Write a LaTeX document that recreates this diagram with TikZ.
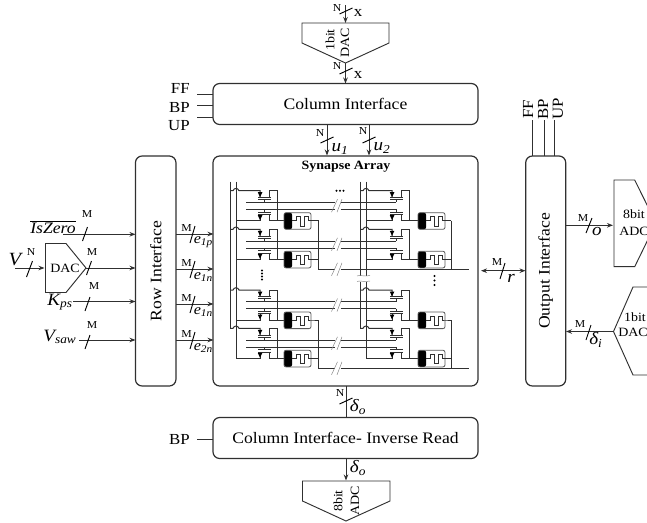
\documentclass[tikz,border=0pt]{standalone}
\usepackage{fontspec}
\setmainfont[FakeStretch=1.1]{Liberation Serif}
\usetikzlibrary{arrows.meta,calc}
\definecolor{ln}{HTML}{303030}
\tikzset{
 box/.style={draw=ln,line width=0.9pt,rounded corners=5pt,inner sep=0pt,font=\fontsize{12}{14}\selectfont},
 conn/.style={line width=0.75pt,draw=ln},
 arr/.style={conn,-{Stealth[length=4.5pt,width=3.4pt]}},
 darr/.style={conn,{Stealth[length=4.5pt,width=3.4pt]}-{Stealth[length=4.5pt,width=3.4pt]}},
 slsh/.style={line width=0.7pt,draw=black},
 wire/.style={line width=0.75pt,draw=ln},
 tick/.style={line width=0.35pt,draw=gray},
 conv/.style={draw=ln,line width=0.7pt},
 sm/.style={inner sep=0pt,font=\fontsize{8}{9}\selectfont},
 lb/.style={inner sep=0pt,font=\fontsize{11.5}{13}\selectfont},
 cv/.style={inner sep=0pt,font=\fontsize{9.5}{11}\selectfont},
 mth/.style={inner sep=0pt,font=\fontsize{13}{15}\selectfont\itshape},
}
\newcommand{\sbs}[1]{\textsubscript{#1}}
\newcommand{\slh}[2]{\draw[slsh] (#1-2.5,#2+7) -- (#1+2.5,#2-7);}
\newcommand{\slv}[2]{\draw[slsh] (#1-6.5,#2+3) -- (#1+6.5,#2-3);}
\newcommand{\cellA}[4]{%
 % #1 transistor shift, #2 vertical-line shift, #3 memristor shift, #4 y
 \begin{scope}[shift={(#1,#4)}]
 \draw[wire] ({230.7+#2-#1},0) -- ({233+#2-#1},0) .. controls ({234+#2-#1},-3) and ({238+#2-#1},-3) .. ({239+#2-#1},0) -- (260,0) -- (260,6.7);
 \fill[black] (257.8,1.5) -- (262.4,1.5) -- (260,6.5) -- cycle;
 \draw[wire] (258.3,6.7) -- (270.7,6.7) (258.3,8.9) -- (270.7,8.9) (264.3,8.9) -- (264.3,11.7);
 \draw[wire] (269.3,6.7) -- (269.3,0) -- (277.7,0) -- (277.7,30);
 \draw[wire] (264.3,18.7) -- (264.3,21.5) (258.3,21.5) -- (270.7,21.5) (258.3,23.7) -- (270.7,23.7);
 \draw[wire] (260,23.7) -- (260,30) -- ({236+#2-#1},30);
 \fill[black] (257.8,24.5) -- (262.4,24.5) -- (260,29.5) -- cycle;
 \draw[wire] (269.3,23.7) -- (269.3,30) -- ({284+#3},30);
 \begin{scope}[shift={(#3,0)}]
 \fill[black,rounded corners=1.5pt] (284,22) rectangle (292,38.6);
 \draw[line width=0.6pt,draw=gray!70!black,rounded corners=1.5pt] (284,22) rectangle (311,38.6);
 \draw[wire] (292,30) -- (296,30) -- (296,26) -- (300,26) -- (300,35.3) -- (304.3,35.3) -- (304.3,26) -- (308.3,26) -- (308.3,30) -- (311,30) -- ({318.7-0.85*#3},30);
 \end{scope}
 \end{scope}}
\newcommand{\brk}[2]{\draw[tick] (#1-3.5,#2+6.5) -- (#1+2.5,#2-6.5) (#1+2,#2+6.5) -- (#1+7,#2-6.5);}
\begin{document}
\begin{tikzpicture}[x=0.75pt,y=-0.75pt]
\clip (0,0) rectangle (647,522);
\fill[white] (0,0) rectangle (647,522);
% main boxes
\node[box,minimum width={265*0.75pt},minimum height={41*0.75pt}] (colif) at (345.5,104) {Column Interface};
\node[box,minimum width={265*0.75pt},minimum height={230*0.75pt}] (array) at (345.5,271) {};
\node[inner sep=0pt,font=\fontsize{9.5}{11}\selectfont\bfseries] (title) at (346,167) {Synapse Array};
\node[box,minimum width={40.5*0.75pt},minimum height={230*0.75pt}] (rowif) at (155.7,271) {\rotatebox{90}{Row Interface}};
\node[box,minimum width={40*0.75pt},minimum height={230*0.75pt}] (outif) at (545.7,271) {\rotatebox{90}{Output Interface}};
\node[box,minimum width={265*0.75pt},minimum height={41*0.75pt}] (invif) at (345.5,438) {Column Interface- Inverse Read};
% converters
\draw[conv] (302,23) -- (389,23) -- (389,43) -- (345.5,63) -- (302,43) -- cycle;
\node[cv,rotate=90] (t1) at (330,40) {1bit};
\node[cv,rotate=90] (t2) at (345,43) {DAC};
\draw[conv] (302.5,481) -- (390,481) -- (390,501) -- (346,521) -- (302.5,501) -- cycle;
\node[cv,rotate=90] (b1) at (338,501) {8bit};
\node[cv,rotate=90] (b2) at (355,501) {ADC};
\draw[conv] (45.5,243.5) -- (66,243.5) -- (86,268) -- (66,292.5) -- (45.5,292.5) -- cycle;
\node[cv] (ldac) at (65,268) {DAC};
\draw[conv] (614,180) -- (634.7,180) -- (656,223) -- (634.7,266.7) -- (614,266.7) -- cycle;
\node[cv] (r1) at (634,214.5) {8bit};
\node[cv] (r2) at (634,231.5) {ADC};
\draw[conv] (613.5,331.5) -- (633,287) -- (660,287) (613.5,331.5) -- (633,375) -- (660,375);
\node[cv] (r3) at (635,317.5) {1bit};
\node[cv] (r4) at (633,332) {DAC};
% top connectors
\coordinate (xin) at (345.5,5);
\draw[arr] (xin) -- (345.5,23); \slv{346}{11}
\node[sm] (n1) at (337,8) {N};
\node[lb] (x1) at (358,12.5) {x};
\draw[arr] (345.5,63) -- (345.5,83.5); \slv{346}{71}
\node[sm] (n2) at (337,66) {N};
\node[lb] (x2) at (358,74.5) {x};
\foreach \y/\t/\ty in {94/FF/88,105/BP/107,117/UP/126}{
 \coordinate (s\t) at (197,\y);
 \draw[conv] (s\t) -- (213,\y);
 \node[lb,anchor=east] at (190,\ty) {\t};
}
\draw[arr] (327,124.5) -- (327,155.5); \slv{327}{140}
\draw[arr] (369,124.5) -- (369,155.5); \slv{369}{140}
\node[sm] (n3) at (320,133) {N};
\node[sm] (n4) at (363,131) {N};
\node[mth] (u1) at (340,149) {u\sbs{1}};
\node[mth] (u2) at (382,148) {u\sbs{2}};
% left inputs
\coordinate (i1) at (63,234.3);
\draw[arr] (i1) -- (135.5,234.3); \slh{85}{234}
\node[sm] (m1) at (87,214) {M};
\node[mth,font=\fontsize{12}{14}\selectfont\itshape] (iz) at (53,227) {$\overline{\mbox{\itshape IsZero}}$};
\coordinate (i2) at (15,268);
\draw[arr] (i2) -- (44.5,268); \draw[slsh] (26.5,277) -- (32.5,261);
\node[sm] (n5) at (31,252) {N};
\node[mth,font=\fontsize{14}{16}\selectfont\itshape] (vv) at (15,260) {V};
\draw[arr] (86,268) -- (135.5,268); \slh{89}{268}
\node[sm] (m2) at (92,252) {M};
\coordinate (i3) at (73,301.5);
\draw[arr] (i3) -- (135.5,301.5); \slh{87.5}{304}
\node[sm] (m3) at (94,286) {M};
\node[mth] (kp) at (60,302) {K\sbs{ps}};
\coordinate (i4) at (79,340);
\draw[arr] (i4) -- (135.5,340); \slh{87.5}{342}
\node[sm] (m4) at (92,325) {M};
\node[mth] (vs) at (60,337) {V\sbs{saw}};
% row to array
\foreach \y/\t in {234/1p,269/1n,304/1n,340/2n}{
 \draw[arr] (176,\y) -- (213.5,\y);
 \draw[slsh] (190,\y+9) -- (195,\y-8);
 \node[sm] at (186.5,\y-6) {M};
 \node[font=\fontsize{11}{13}\selectfont\itshape,inner sep=0pt,anchor=west] at (193.5,\y+8) {e\sbs{\t}};
}
% output side
\foreach \x/\t/\tx in {532.5/FF/528,544.5/BP/543,554.5/UP/558}{
 \draw[conv] (\x,120) -- (\x,156);
 \node[lb,rotate=90] at (\tx,109) {\t};
}
\draw[arr] (565.7,225.3) -- (613,225.3);
\draw[slsh] (586,233) -- (592,218);
\node[sm] (m5) at (583,218) {M};
\node[mth] (oo) at (597,231) {o};
\draw[arr] (613.5,331.5) -- (566,331.5);
\draw[slsh] (586,340) -- (591,325);
\node[sm] (m6) at (580,324) {M};
\node[mth] (di) at (596,340) {δ\sbs{i}};
\draw[darr] (481,270.7) -- (525.5,270.7);
\draw[slsh] (500,279) -- (505,263);
\node[sm] (m7) at (497,262) {M};
\node[mth] (rr) at (511,278) {r};
% bottom
\draw[conn] (346,386) -- (346,417.5); \slv{346}{401}
\node[sm] (n6) at (340,393) {N};
\node[mth] (d1) at (358,407) {δ\sbs{o}};
\draw[arr] (346,458.5) -- (346,480.5);
\node[mth] (d2) at (358,468) {δ\sbs{o}};
\coordinate (bpin) at (197,439);
\draw[conv] (bpin) -- (213,439);
\node[lb,anchor=east] (bp) at (190,439) {BP};
% synapse array
\draw[wire] (230.7,181.5) -- (230.7,329);
\draw[wire] (236,181.5) -- (236,358.3);
\draw[wire] (360.7,181.5) -- (360.7,275.5) (360.7,281.5) -- (360.7,328.5);
\draw[wire] (366,181.5) -- (366,275.5) (366,281.5) -- (366,358.3);
\draw[tick] (357,276) .. controls (360,274.5) and (364,277) .. (370,275.5);
\draw[tick] (357,281.5) .. controls (360,280) and (364,282.5) .. (370,281);
\foreach \y in {190.7,229.3,290,328.3}{
 \cellA{0}{0}{0}{\y}
 \cellA{132}{130}{2}{\y}
 \draw[wire] (246,\y+11.7) -- (335,\y+11.7) (340.7,\y+11.7) -- (396.3,\y+11.7);
 \draw[wire] (246,\y+18.7) -- (335,\y+18.7) (340.7,\y+18.7) -- (396.3,\y+18.7);
 \brk{335}{\y+15}
}
\draw[wire] (318.7,220.7) -- (318.7,269.3) -- (335,269.3) (340.7,269.3) -- (469,269.3);
\draw[wire] (318.7,320) -- (318.7,368.3) -- (335,368.3) (340.7,368.3) -- (469,368.3);
\draw[wire] (451,220.7) -- (451,269.3) (451,320) -- (451,368.3);
\brk{335}{269.3}
\brk{335}{368.3}
\foreach \x in {336.5,340,343.5}{\fill (\x,190.7) circle (1.1);}
\foreach \y in {270.5,273.5,276.5,279.5}{\fill (262,\y) circle (1.2);}
\foreach \y in {276,280.5,285}{\fill (434.5,\y) circle (1.2);}
\end{tikzpicture}
\end{document}
